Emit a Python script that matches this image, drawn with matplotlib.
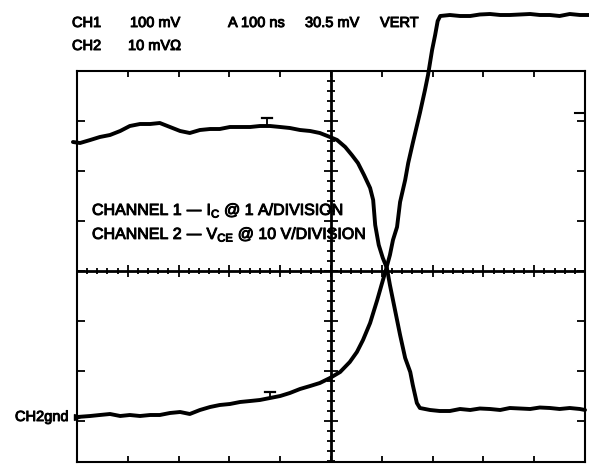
import numpy as np
import matplotlib
matplotlib.use("Agg")
import matplotlib.pyplot as plt
import matplotlib.patheffects as pe
from matplotlib.collections import LineCollection

plt.rcParams['font.family'] = ['Liberation Sans', 'DejaVu Sans']

# ---- data (screen divisions: x 0..10 at 100 ns/div, y -4..4) ----
ch1_x = [-0.08, 0.06, 0.26, 0.45, 0.65, 0.85, 1.04, 1.24, 1.44, 1.63, 1.83, 2.03, 2.22,
         2.42, 2.62, 2.81, 3.01, 3.21, 3.41, 3.60, 3.80, 4.00, 4.19, 4.39, 4.59, 4.78,
         4.98, 5.12, 5.28, 5.41, 5.53, 5.65, 5.77, 5.83, 5.87, 5.94, 6.02, 6.10, 6.16,
         6.26, 6.36, 6.46, 6.56, 6.61, 6.69, 6.75, 6.95, 7.14, 7.34, 7.54, 7.74, 7.93,
         8.13, 8.33, 8.52, 8.72, 8.92, 9.11, 9.31, 9.50, 9.70, 9.90, 10.0]
ch1_y = [2.58, 2.56, 2.62, 2.68, 2.72, 2.80, 2.90, 2.94, 2.94, 2.96, 2.88, 2.80, 2.76,
         2.82, 2.84, 2.84, 2.88, 2.88, 2.88, 2.90, 2.90, 2.88, 2.86, 2.82, 2.80, 2.76,
         2.68, 2.62, 2.48, 2.32, 2.16, 1.92, 1.66, 1.42, 0.92, 0.52, 0.26, 0.06, -0.28,
         -0.78, -1.28, -1.74, -2.02, -2.28, -2.64, -2.74, -2.78, -2.80, -2.80, -2.76, -2.78, -2.75,
         -2.76, -2.78, -2.74, -2.75, -2.76, -2.73, -2.74, -2.76, -2.74, -2.76, -2.78]

ch2_x = [0.0, 0.26, 0.45, 0.65, 0.85, 1.04, 1.24, 1.44, 1.63, 1.83, 2.03, 2.22, 2.42,
         2.62, 2.81, 3.01, 3.21, 3.41, 3.60, 3.80, 4.00, 4.19, 4.39, 4.59, 4.78, 4.98,
         5.18, 5.37, 5.51, 5.63, 5.77, 5.91, 6.00, 6.08, 6.16, 6.22, 6.30, 6.36, 6.46,
         6.52, 6.61, 6.75, 6.85, 6.91, 6.99, 7.05, 7.10, 7.15, 7.34, 7.54, 7.74, 7.93,
         8.13, 8.33, 8.52, 8.72, 8.92, 9.11, 9.31, 9.50, 9.70, 9.90, 10.08]
ch2_y = [-2.92, -2.90, -2.88, -2.86, -2.90, -2.88, -2.90, -2.88, -2.88, -2.84, -2.82, -2.86, -2.78,
         -2.72, -2.68, -2.66, -2.62, -2.60, -2.58, -2.54, -2.50, -2.44, -2.36, -2.30, -2.24, -2.14,
         -2.02, -1.82, -1.62, -1.38, -1.04, -0.58, -0.26, 0.02, 0.32, 0.62, 0.88, 1.38, 1.82,
         2.16, 2.56, 3.16, 3.62, 3.92, 4.42, 4.72, 5.00, 5.10, 5.12, 5.10, 5.10, 5.13,
         5.14, 5.12, 5.12, 5.13, 5.14, 5.12, 5.12, 5.10, 5.14, 5.12, 5.12]

cursor_x = [3.74, 3.80]
cursor_trace_y = [2.90, -2.54]
cursor_bar_y = [3.06, -2.42]

header_row1 = ["CH1", "100 mV", "A 100 ns", "30.5 mV", "VERT"]
header_row2 = ["CH2", "10 mV\u03a9"]

W, H = 589, 465
fig = plt.figure(figsize=(W / 100, H / 100), dpi=100)
fig.patch.set_facecolor("white")
ax = fig.add_axes([77 / W, 1 - 462 / H, (585 - 77) / W, (462 - 71) / H])
ax.set_xlim(0, 10)
ax.set_ylim(-3.82, 4.0)
ax.set_xticks([])
ax.set_yticks([])
for s in ax.spines.values():
    s.set_linewidth(1.5)
    s.set_color("black")

# graticule: centre lines with small ticks
ax.axhline(0, color="black", lw=2.0)
ax.axvline(5, color="black", lw=2.0)
segs = []
for xv in np.arange(0, 10.01, 0.2):
    h = 0.12 if abs(xv - round(xv)) < 1e-6 else 0.06
    segs.append([(xv, -h), (xv, h)])
for yv in np.arange(-3.8, 4.01, 0.2):
    h = 0.13 if abs(yv - round(yv)) < 1e-6 else 0.07
    segs.append([(5 - h, yv), (5 + h, yv)])
# edge ticks
for xv in range(1, 10):
    segs.append([(xv, 4.0), (xv, 3.88)])
    segs.append([(xv, -3.82), (xv, -3.70)])
for yv in range(-3, 4):
    segs.append([(0, yv), (0.16, yv)])
    segs.append([(10, yv), (9.84, yv)])
ax.add_collection(LineCollection(segs, colors="black", linewidths=1.3))

# traces
ax.plot(ch1_x, ch1_y, color="black", lw=2.8, solid_joinstyle="round",
        solid_capstyle="round", clip_on=False)
ax.plot(ch2_x, ch2_y, color="black", lw=2.8, solid_joinstyle="round",
        solid_capstyle="round", clip_on=False)

# cursor markers "T"
for cx, ty, by in zip(cursor_x, cursor_trace_y, cursor_bar_y):
    ax.plot([cx, cx], [ty, by], color="black", lw=1.3)
    ax.plot([cx - 0.1, cx + 0.1], [by, by], color="black", lw=1.6)

# ground marker
ax.plot([0.0], [ch2_y[0]], marker=">", color="black", markersize=5, clip_on=False)
ax.plot([9.8, 10.0], [3.16, 3.16], color="black", lw=1.5)

# texts
heavy = [pe.withStroke(linewidth=0.7, foreground="black")]

def ftext(px, py, s, **kw):
    fig.text(px / W, 1 - py / H, s, va="baseline", ha="left", color="black",
             path_effects=heavy, **kw)

hx1 = [72, 130, 228, 305, 380]
for x, s in zip(hx1, header_row1):
    ftext(x, 27, s, fontsize=10.5)
hx2 = [72, 128]
for x, s in zip(hx2, header_row2):
    ftext(x, 50, s, fontsize=10.5)

ftext(15, 421, "CH2gnd", fontsize=10.5)

ftext(92, 215, "CHANNEL 1 \u2014 I$_\\mathregular{C}$ @ 1 A/DIVISION", fontsize=11.5)
ftext(92, 239, "CHANNEL 2 \u2014 V$_\\mathregular{CE}$ @ 10 V/DIVISION", fontsize=11.5)

fig.savefig("out.png", dpi=100, facecolor="white")
